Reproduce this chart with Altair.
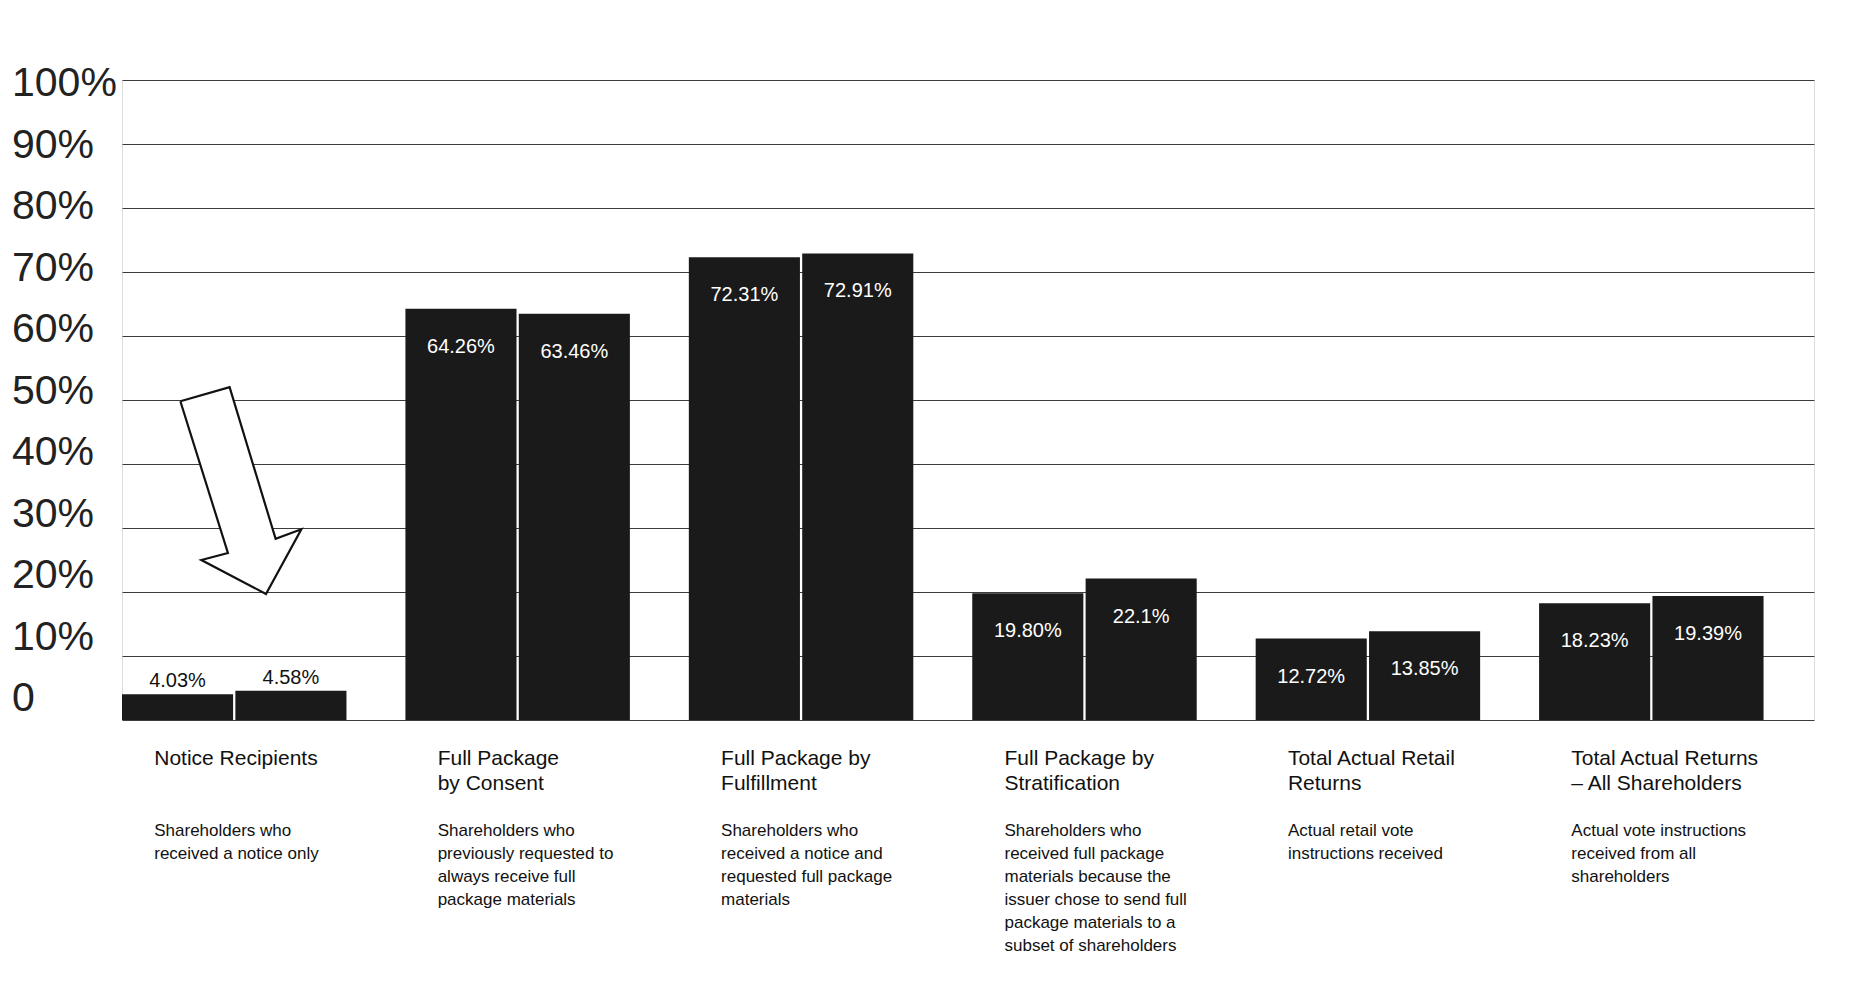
import altair as alt
import pandas as pd

# ---------------- data ----------------
categories = [
    "Notice Recipients",
    "Full Package by Consent",
    "Full Package by Fulfillment",
    "Full Package by Stratification",
    "Total Actual Retail Returns",
    "Total Actual Returns – All Shareholders",
]
title_lines = [
    "Notice Recipients",
    "Full Package\nby Consent",
    "Full Package by\nFulfillment",
    "Full Package by\nStratification",
    "Total Actual Retail\nReturns",
    "Total Actual Returns\n– All Shareholders",
]
descriptions = [
    "Shareholders who\nreceived a notice only",
    "Shareholders who\npreviously requested to\nalways receive full\npackage materials",
    "Shareholders  who\nreceived a notice and\nrequested full package\nmaterials",
    "Shareholders who\nreceived full package\nmaterials because the\nissuer chose to send full\npackage materials to a\nsubset of shareholders",
    "Actual retail vote\ninstructions received",
    "Actual vote instructions\nreceived from all\nshareholders",
]
series = ["Series 1", "Series 2"]
values_1 = [4.03, 64.26, 72.31, 19.80, 12.72, 18.23]
values_2 = [4.58, 63.46, 72.91, 22.1, 13.85, 19.39]
labels_1 = ["4.03%", "64.26%", "72.31%", "19.80%", "12.72%", "18.23%"]
labels_2 = ["4.58%", "63.46%", "72.91%", "22.1%", "13.85%", "19.39%"]

y_ticks = [0, 10, 20, 30, 40, 50, 60, 70, 80, 90, 100]
y_tick_labels = ["0", "10%", "20%", "30%", "40%", "50%", "60%", "70%", "80%", "90%", "100%"]

# hollow arrow annotation outline: x in % of plot width, y in % value
arrow_x = [3.45, 6.36, 9.08, 10.6, 8.51, 4.69, 6.26, 3.45]
arrow_y = [49.8, 52.0, 28.3, 29.8, 19.7, 25.0, 26.1, 49.8]

# ---------------- tables ----------------
rows = []
for i, c in enumerate(categories):
    rows.append({"category": c, "series": series[0], "value": values_1[i], "label": labels_1[i]})
    rows.append({"category": c, "series": series[1], "value": values_2[i], "label": labels_2[i]})
bars_df = pd.DataFrame(rows)
cat_df = pd.DataFrame({"category": categories, "title": title_lines, "desc": descriptions})
tick_df = pd.DataFrame({"tick": y_ticks, "txt": y_tick_labels})
arrow_df = pd.DataFrame({"ax": arrow_x, "ay": arrow_y, "idx": list(range(len(arrow_x)))})

FONT = "Liberation Sans"
x_scale = alt.Scale(paddingInner=0.208, paddingOuter=0.089, align=0)
x_enc = alt.X("category:N", sort=categories, scale=x_scale, axis=None)
xo_enc = alt.XOffset("series:N", sort=series, scale=alt.Scale(paddingInner=0.02))
y_scale = alt.Scale(domain=[0, 100])

base = alt.Chart(bars_df)

bars = base.mark_bar(color="#1a1a1a").encode(
    x=x_enc,
    xOffset=xo_enc,
    y=alt.Y(
        "value:Q",
        scale=y_scale,
        axis=alt.Axis(
            values=y_ticks, labels=False, ticks=False, domain=False, grid=True,
            gridColor="#3c3c3c", gridWidth=1.1, title=None,
        ),
    ),
)

lab_out = base.transform_filter(alt.datum.category == categories[0]).mark_text(
    baseline="bottom", dy=-3, fontSize=20, color="#111", font=FONT
).encode(x=x_enc, xOffset=xo_enc, y=alt.Y("value:Q", scale=y_scale), text="label:N")

lab_in = base.transform_filter(alt.datum.category != categories[0]).mark_text(
    baseline="middle", dy=38, fontSize=20, color="white", font=FONT
).encode(x=x_enc, xOffset=xo_enc, y=alt.Y("value:Q", scale=y_scale), text="label:N")

titles = alt.Chart(cat_df).mark_text(
    align="left", baseline="top", dx=-80, fontSize=21, lineBreak="\n", lineHeight=25,
    color="#111", font=FONT,
).encode(x=x_enc, y=alt.value(668), text="title:N")

descs = alt.Chart(cat_df).mark_text(
    align="left", baseline="top", dx=-80, fontSize=17, lineBreak="\n", lineHeight=23,
    color="#111", font=FONT,
).encode(x=x_enc, y=alt.value(743), text="desc:N")

main = alt.layer(bars, lab_out, lab_in, titles, descs)

ylabels = alt.Chart(tick_df).mark_text(
    align="left", baseline="middle", fontSize=41, color="#222", font=FONT
).encode(
    x=alt.value(-110),
    y=alt.Y("tick:Q", scale=alt.Scale(domain=[0, 100], range=[619, 4]), axis=None),
    text="txt:N",
)

arrow = alt.Chart(arrow_df).mark_line(
    stroke="#111", strokeWidth=2.2, fill="white", strokeJoin="miter"
).encode(
    x=alt.X("ax:Q", scale=alt.Scale(domain=[0, 100]), axis=None),
    y=alt.Y("ay:Q", scale=alt.Scale(domain=[0, 100]), axis=None),
    order="idx:Q",
)

chart = (
    alt.layer(main, ylabels, arrow)
    .resolve_scale(x="independent", y="independent")
    .properties(
        width=1692,
        height=640,
        autosize=alt.AutoSizeParams(type="none"),
        padding={"left": 122, "top": 80, "right": 39, "bottom": 280},
        background="white",
    )
    .configure_view(strokeWidth=0, stroke="transparent")
    .configure_axis(domain=False, ticks=False)
    .configure(font=FONT)
)

chart.save("out.html", embed_options={"renderer": "svg", "actions": False})
